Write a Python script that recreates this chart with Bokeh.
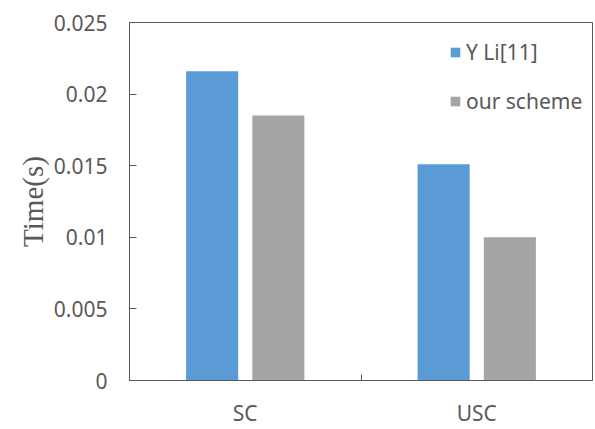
import numpy as np
from bokeh.plotting import figure
from bokeh.models import (ColumnDataSource, Range1d, FixedTicker, Legend, LegendItem)
from bokeh.transform import dodge
from bokeh.embed import file_html
from bokeh.resources import INLINE

categories = ["SC", "USC"]
series_names = ["Y Li[11]", "our scheme"]
yli_values = [0.0216, 0.0151]
our_values = [0.0185, 0.0100]
y_ticks = [0, 0.005, 0.01, 0.015, 0.02, 0.025]
y_tick_labels = ["0", "0.005", "0.01", "0.015", "0.02", "0.025"]

colors = ["#5B9BD5", "#A5A5A5"]
text_color = "#595959"
frame_color = "#595959"
font = "Noto Sans"

x_centers = np.arange(len(categories)) + 0.5
bar_w = 0.225
offset = 0.143

src = ColumnDataSource(dict(x=x_centers, yli=yli_values, our=our_values))

p = figure(width=595, height=429, output_backend="svg", toolbar_location=None,
           x_range=Range1d(0, len(categories)), y_range=Range1d(y_ticks[0], y_ticks[-1]),
           min_border_left=129, min_border_right=3, min_border_top=22, min_border_bottom=47)

r1 = p.vbar(x=dodge("x", -offset), top="yli", width=bar_w, source=src,
            fill_color=colors[0], line_color=None)
r2 = p.vbar(x=dodge("x", offset), top="our", width=bar_w, source=src,
            fill_color=colors[1], line_color=None)

p.xgrid.visible = False
p.ygrid.visible = False
p.outline_line_color = frame_color
p.outline_line_width = 1
p.background_fill_color = "white"
p.border_fill_color = "white"

# x axis
xa = p.xaxis[0]
xa.ticker = FixedTicker(ticks=list(x_centers),
                        minor_ticks=list(np.arange(1, len(categories))))
xa.major_label_overrides = {float(v): c for v, c in zip(x_centers, categories)}
xa.major_tick_in = 0
xa.major_tick_out = 0
xa.minor_tick_in = 6
xa.minor_tick_out = 0
xa.minor_tick_line_color = frame_color
xa.axis_line_color = frame_color
xa.major_label_text_font = font
xa.major_label_text_font_size = "21px"
xa.major_label_text_color = text_color
xa.major_label_standoff = 18

# y axis
ya = p.yaxis[0]
ya.ticker = FixedTicker(ticks=y_ticks, minor_ticks=[])
ya.major_label_overrides = {float(v): l for v, l in zip(y_ticks, y_tick_labels)}
ya.major_tick_in = 7
ya.major_tick_out = 0
ya.major_tick_line_color = frame_color
ya.minor_tick_line_color = None
ya.axis_line_color = frame_color
ya.major_label_text_font = font
ya.major_label_text_font_size = "21px"
ya.major_label_text_color = text_color
ya.major_label_standoff = 22
ya.axis_label = "Time(s)"
ya.axis_label_text_font = "Liberation Serif"
ya.axis_label_text_font_size = "29px"
ya.axis_label_text_font_style = "normal"
ya.axis_label_text_color = text_color
ya.axis_label_standoff = 2

legend = Legend(items=[LegendItem(label=series_names[0], renderers=[r1]),
                       LegendItem(label=series_names[1], renderers=[r2])],
                location=(320, 264), padding=0, margin=0, spacing=19,
                glyph_width=12, glyph_height=12, label_height=30,
                label_standoff=5, border_line_color=None,
                background_fill_alpha=0,
                label_text_font=font, label_text_font_size="21px",
                label_text_color=text_color)
p.add_layout(legend)

open("out.html", "w").write(file_html(p, INLINE))
